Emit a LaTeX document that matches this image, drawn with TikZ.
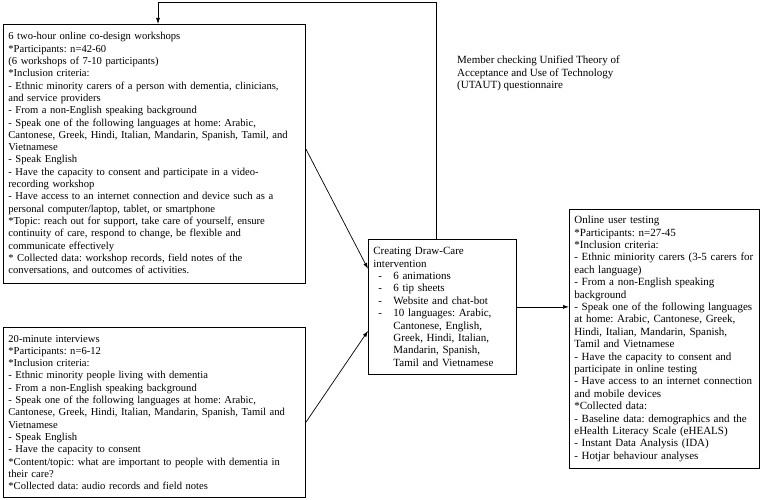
\documentclass[tikz,border=0pt]{standalone}
\usepackage{fontspec}
\setmainfont{Liberation Serif}
\usepackage{tikz}
\usetikzlibrary{arrows.meta}
\usetikzlibrary{calc}
\frenchspacing

\newcommand{\dashline}[1]{\hspace*{5pt}\makebox[15pt][l]{-}#1}
\newcommand{\contline}[1]{\hspace*{20pt}#1}

\begin{document}
\begin{tikzpicture}[x = 1pt, y = 1pt,
	box/.style = {draw, line width = .8pt, anchor = north west, align = left, inner xsep = 5pt, inner ysep = 3pt, font = \fontsize{11}{12.4}\selectfont},
	small/.style = {font = \fontsize{10.6}{12.3}\selectfont},
	arr/.style = {line width = .7pt, -{Latex[length = 6pt, width = 4pt]}}]
	\useasboundingbox (0,0) rectangle (760,500);
	% the four boxes
	\node [box, small, text width = 292pt, minimum height = 259pt] (work) at (3,476) {6 two-hour online co-design workshops\\
		{*}Participants: n=42-60\\
		(6 workshops of 7-10 participants)\\
		{*}Inclusion criteria:\\
		- Ethnic minority carers of a person with dementia, clinicians,\\
		and service providers\\
		- From a non-English speaking background\\
		- Speak one of the following languages at home: Arabic,\\
		Cantonese, Greek, Hindi, Italian, Mandarin, Spanish, Tamil, and\\
		Vietnamese\\
		- Speak English\\
		- Have the capacity to consent and participate in a video-\\
		recording workshop\\
		- Have access to an internet connection and device such as a\\
		personal computer/laptop, tablet, or smartphone\\
		{*}Topic: reach out for support, take care of yourself, ensure\\
		continuity of care, respond to change, be flexible and\\
		communicate effectively\\
		{*} Collected data: workshop records, field notes of the\\
		conversations, and outcomes of activities.};
	\node [box, small, text width = 292pt, minimum height = 170pt] (interv) at (3,173) {20-minute interviews\\
		{*}Participants: n=6-12\\
		{*}Inclusion criteria:\\
		- Ethnic minority people living with dementia\\
		- From a non-English speaking background\\
		- Speak one of the following languages at home: Arabic,\\
		Cantonese, Greek, Hindi, Italian, Mandarin, Spanish, Tamil and\\
		Vietnamese\\
		- Speak English\\
		- Have the capacity to consent\\
		{*}Content/topic: what are important to people with dementia in\\
		their care?\\
		{*}Collected data: audio records and field notes};
	\node [box, text width = 138pt, minimum height = 135pt] (make) at (368,261) {Creating Draw-Care\\
		intervention\\
		\dashline{6 animations}\\
		\dashline{6 tip sheets}\\
		\dashline{Website and chat-bot}\\
		\dashline{10 languages: Arabic,}\\
		\contline{Cantonese, English,}\\
		\contline{Greek, Hindi, Italian,}\\
		\contline{Mandarin, Spanish,}\\
		\contline{Tamil and Vietnamese}};
	\node [box, text width = 180pt, minimum height = 259pt] (test) at (569,291) {Online user testing\\
		{*}Participants: n=27-45\\
		{*}Inclusion criteria:\\
		- Ethnic miniority carers (3-5 carers for\\
		each language)\\
		- From a non-English speaking\\
		background\\
		- Speak one of the following languages\\
		at home: Arabic, Cantonese, Greek,\\
		Hindi, Italian, Mandarin, Spanish,\\
		Tamil and Vietnamese\\
		- Have the capacity to consent and\\
		participate in online testing\\
		- Have access to an internet connection\\
		and mobile devices\\
		{*}Collected data:\\
		- Baseline data: demographics and the\\
		eHealth Literacy Scale (eHEALS)\\
		- Instant Data Analysis (IDA)\\
		- Hotjar behaviour analyses};
	\node [anchor = north west, align = left, inner sep = 0pt, font = \fontsize{11}{12.4}\selectfont] (member) at (457,444) {Member checking Unified Theory of\\
		Acceptance and Use of Technology\\
		(UTAUT) questionnaire};
	% connectors
	\coordinate (loop) at (436,498);
	\coordinate (drop) at (158,498);
	\draw [arr] ([yshift = 5pt]work.east) -- ([yshift = 38pt]make.west);
	\draw [arr] ([yshift = -10pt]interv.east) -- ([yshift = -24pt]make.west);
	\draw [arr] (make.east) -- (make.east -| test.west);
	\draw [arr] (make.north -| loop) -- (loop) -- (drop) -- (drop |- work.north);
\end{tikzpicture}
\end{document}
